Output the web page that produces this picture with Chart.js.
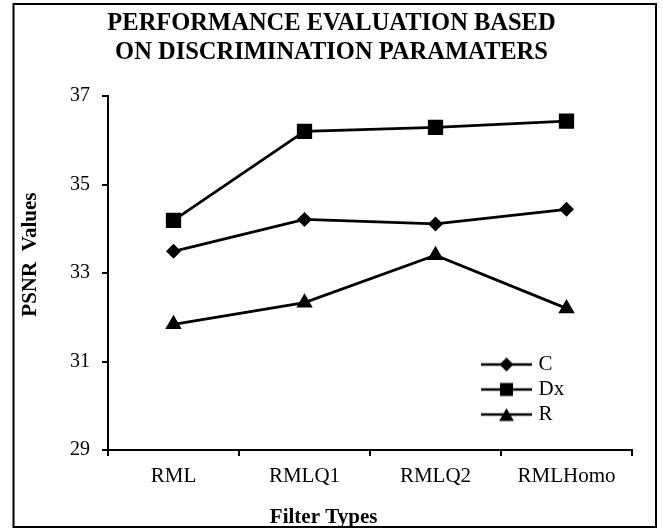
<!DOCTYPE html>
<html>
<head>
<meta charset="utf-8">
<title>Performance evaluation</title>
<script src="https://cdn.jsdelivr.net/npm/chart.js@4.4.1/dist/chart.umd.min.js"></script>
<style>
  body { margin: 0; background: #fff; }
  canvas { display: block; }
</style>
</head>
<body>
<canvas id="myChart" width="663" height="530"></canvas>
<script>
// values
const filterTypes = ['RML', 'RMLQ1', 'RMLQ2', 'RMLHomo'];
const valuesC  = [33.49, 34.21, 34.11, 34.44];
const valuesDx = [34.19, 36.20, 36.29, 36.43];
const valuesR  = [31.84, 32.33, 33.40, 32.20];
const yTicks = [29, 31, 33, 35, 37];

const serif = "'Liberation Serif', 'Times New Roman', serif";
Chart.defaults.font.family = serif;
Chart.defaults.color = '#000';

// little line + marker picture used as legend symbol
function makeIcon(style, r) {
    const c = document.createElement('canvas');
    c.width = 51; c.height = 22;
    const g = c.getContext('2d');
    const cx = 25.5, cy = 11;
    g.strokeStyle = '#000';
    g.fillStyle = '#000';
    g.lineWidth = 2.7;
    g.beginPath(); g.moveTo(0, cy); g.lineTo(51, cy); g.stroke();
    g.beginPath();
    if (style === 'rectRot') {
        g.moveTo(cx - r, cy); g.lineTo(cx, cy - r); g.lineTo(cx + r, cy); g.lineTo(cx, cy + r);
    } else if (style === 'rect') {
        g.rect(cx - r, cy - r, 2 * r, 2 * r);
    } else {
        const h = r * 1.5;
        g.moveTo(cx, cy - h / 2); g.lineTo(cx + r * 0.866, cy + h / 2); g.lineTo(cx - r * 0.866, cy + h / 2);
    }
    g.closePath(); g.fill();
    return c;
}
const legendIcons = [makeIcon('rectRot', 7), makeIcon('rect', 6.5), makeIcon('triangle', 8.5)];

// frame round the whole chart and legend moved inside the plot
const framePlugin = {
    id: 'frame',
    afterLayout(chart) {
        const lg = chart.legend;
        const w = lg.width, h = lg.height;
        lg.left = 481; lg.top = 350;
        lg.right = lg.left + w; lg.bottom = lg.top + h;
    },
    afterDraw(chart) {
        const ctx = chart.ctx;
        ctx.save();
        ctx.strokeStyle = '#000';
        ctx.lineWidth = 2;
        ctx.strokeRect(13.5, 4, 642.5, 523);
        ctx.restore();
    }
};

const ctx = document.getElementById('myChart').getContext('2d');
const myChart = new Chart(ctx, {
    type: 'line',
    data: {
        labels: filterTypes,
        datasets: [
            { label: 'C', data: valuesC, pointStyle: 'rectRot', pointRadius: 7.5 },
            { label: 'Dx', data: valuesDx, pointStyle: 'rect', pointRadius: 10.8 },
            { label: 'R', data: valuesR, pointStyle: 'triangle', pointRadius: 9.5 }
        ].map(d => Object.assign(d, {
            borderColor: '#000',
            backgroundColor: '#000',
            borderWidth: 2.8,
            pointBorderWidth: 0,
            pointHoverRadius: d.pointRadius,
            fill: false,
            tension: 0
        }))
    },
    options: {
        responsive: false,
        animation: false,
        devicePixelRatio: 1,
        layout: { padding: 0 },
        scales: {
            x: {
                offset: true,
                grid: { offset: true, drawOnChartArea: false, color: '#000', lineWidth: 2, tickLength: 6 },
                border: { color: '#000', width: 2 },
                ticks: { font: { size: 21 }, padding: 8, maxRotation: 0 },
                afterFit: s => { s.height = 50; }
            },
            y: {
                min: 29,
                max: 37,
                afterBuildTicks: s => { s.ticks = yTicks.map(v => ({ value: v })); },
                grid: { drawOnChartArea: false, color: '#000', lineWidth: 2, tickLength: 6 },
                border: { color: '#000', width: 2 },
                ticks: { font: { size: 20 }, padding: 12 },
                title: {
                    display: true,
                    text: '       PSNR  Values',
                    font: { size: 21, weight: 'bold' },
                    padding: { top: 18, bottom: 0 }
                },
                afterFit: s => { s.width = 108; }
            },
            // empty right box so the title is centred on the whole frame
            yR: {
                type: 'linear',
                position: 'right',
                grid: { display: false },
                border: { display: false },
                ticks: { display: false },
                afterFit: s => { s.width = 31; }
            }
        },
        plugins: {
            title: {
                display: true,
                text: ['PERFORMANCE EVALUATION BASED', 'ON DISCRIMINATION PARAMATERS'],
                font: { size: 24.5, weight: 'bold', lineHeight: 29 / 24.5 },
                color: '#000',
                padding: { top: 9, bottom: 29 }
            },
            subtitle: {
                display: true,
                position: 'bottom',
                text: 'Filter Types   ',
                font: { size: 21, weight: 'bold' },
                color: '#000',
                padding: { top: 4.8, bottom: 0 }
            },
            legend: {
                position: 'chartArea',
                align: 'start',
                labels: {
                    usePointStyle: true,
                    pointStyleWidth: 43,
                    padding: 4,
                    font: { size: 21 },
                    color: '#000',
                    generateLabels: chart => chart.data.datasets.map((d, i) => ({
                        text: d.label,
                        pointStyle: legendIcons[i],
                        fillStyle: '#000',
                        strokeStyle: '#000',
                        lineWidth: 0,
                        hidden: false,
                        datasetIndex: i
                    }))
                }
            },
            tooltip: { enabled: false }
        }
    },
    plugins: [framePlugin]
});
</script>
</body>
</html>
